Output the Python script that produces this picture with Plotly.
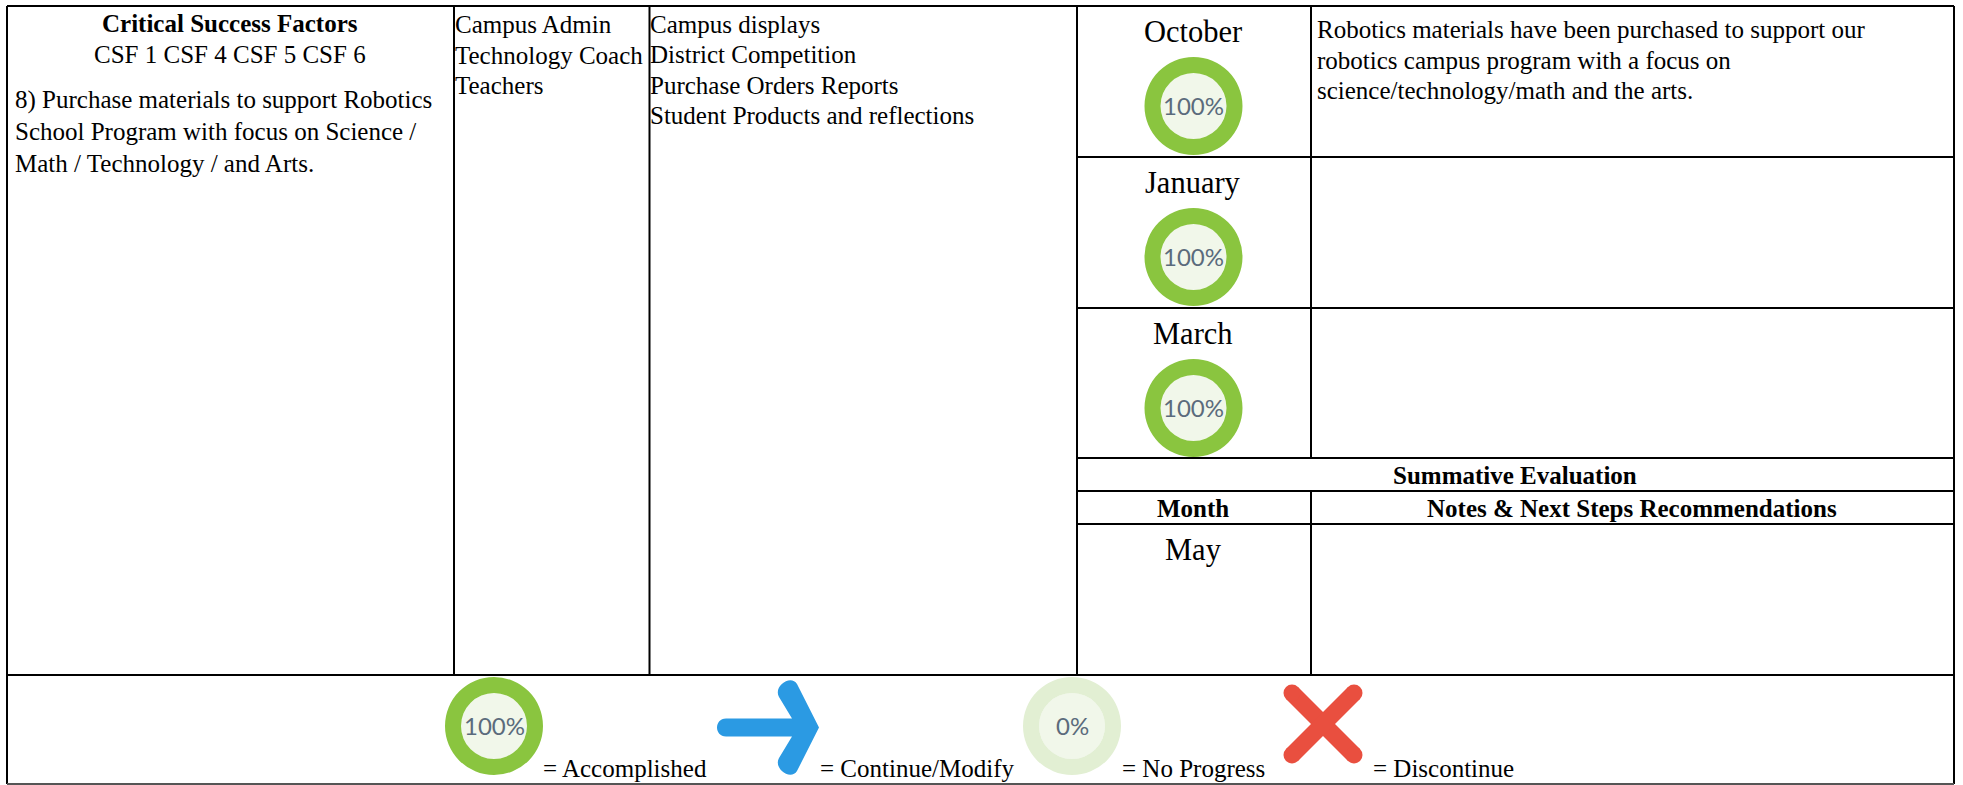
import plotly.graph_objects as go

W, H = 1963, 785
SERIF = "Liberation Serif"
BODY = 25
MONTH = 30.5
INK = "#000000"

# ---------- table text ----------
left_cell = [
    ("Critical Success Factors", 230, 23, "center", True),
    ("CSF 1 CSF 4 CSF 5 CSF 6", 230, 54, "center", False),
    ("8) Purchase materials to support Robotics", 15, 100, "left", False),
    ("School Program with focus on Science /", 15, 131, "left", False),
    ("Math / Technology / and Arts.", 15, 163, "left", False),
]
people = ["Campus Admin", "Technology Coach", "Teachers"]
people_y = [24, 55, 85]
evidence = ["Campus displays", "District Competition", "Purchase Orders Reports", "Student Products and reflections"]
evidence_y = [24, 54, 85, 115]
notes = ["Robotics materials have been purchased to support our",
         "robotics campus program with a focus on",
         "science/technology/math and the arts."]
notes_y = [29, 60, 90]
months = ["October", "January", "March", "May"]
months_y = [32, 183, 334, 550]
headers = [("Summative Evaluation", 1515, 475), ("Month", 1193, 508), ("Notes & Next Steps Recommendations", 1631.5, 508)]

# ---------- progress values ----------
row_progress = [100, 100, 100]
row_centres_y = [106, 257, 408]
legend_progress = [100, 0]
legend_centres = [(494, 726), (1072, 726)]
legend_labels = [("= Accomplished", 543), ("= Continue/Modify", 819.5), ("= No Progress", 1122), ("= Discontinue", 1373)]

# ---------- rules ----------
X_END = 1954
h_rules = [(7, X_END, 6), (1077, X_END, 157), (1077, X_END, 308), (1077, X_END, 458), (1077, X_END, 491),
           (1077, X_END, 524), (7, X_END, 675)]
v_rules = [(7, 6, 784), (454, 6, 675), (649.5, 6, 675), (1077, 6, 675), (1311, 6, 458), (1311, 491, 675),
           (X_END, 6, 784)]

GREEN, PALE, INNER, PCT = "#8AC53F", "#E2EFD3", "#F1F7EA", "#5B6B7C"
R, r = 49, 33

fig = go.Figure()
# anchors the pixel-sized cartesian axes the table is laid out on
fig.add_trace(go.Scatter(x=[0, W], y=[0, H], mode="markers", marker=dict(opacity=0, size=1), hoverinfo="skip",
                         showlegend=False))
shapes, notes_list = [], []


def text(s, x, y, size=BODY, anchor="left", bold=False, family=SERIF, color=INK):
    notes_list.append(dict(x=x, y=y, text=f"<b>{s}</b>" if bold else s, showarrow=False, xanchor=anchor, yanchor="middle",
                           font=dict(family=family, size=size, color=color), borderpad=0, borderwidth=0))


def donut(cx, cy, value):
    fig.add_trace(go.Pie(values=[value, 100 - value], sort=False, direction="clockwise",
                         marker=dict(colors=[GREEN, PALE], line=dict(width=0)), hole=r / R,
                         textinfo="none", hoverinfo="skip", showlegend=False,
                         domain=dict(x=[(cx - R) / W, (cx + R) / W], y=[1 - (cy + R) / H, 1 - (cy - R) / H])))
    shapes.append(dict(type="circle", x0=cx - r, x1=cx + r, y0=cy - r, y1=cy + r, fillcolor=INNER,
                       line=dict(width=0), layer="below"))
    text(f"{value}%", cx, cy - 1, size=24, anchor="center", family="Lato", color=PCT)


for x0, x1, y in h_rules:
    shapes.append(dict(type="line", x0=x0, x1=x1, y0=y, y1=y, line=dict(color=INK, width=2)))
for x, y0, y1 in v_rules:
    shapes.append(dict(type="line", x0=x, x1=x, y0=y0, y1=y1, line=dict(color=INK, width=2)))
shapes.append(dict(type="line", x0=7, x1=X_END, y0=784, y1=784, line=dict(color="#555555", width=2)))

for s, x, y, a, b in left_cell:
    text(s, x, y, anchor=a, bold=b)
for s, y in zip(people, people_y):
    text(s, 455, y)
for s, y in zip(evidence, evidence_y):
    text(s, 650, y)
for s, y in zip(notes, notes_y):
    text(s, 1317, y)
for s, y in zip(months, months_y):
    text(s, 1193, y, size=MONTH, anchor="center")
for s, x, y in headers:
    text(s, x, y, anchor="center", bold=True)
for s, x in legend_labels:
    text(s, x, 768, anchor="left")

for v, y in zip(row_progress, row_centres_y):
    donut(1193.5, y, v)
for v, (x, y) in zip(legend_progress, legend_centres):
    donut(x, y, v)

# arrow icon
shapes.append(dict(type="path", fillcolor="#2B9AE3", line=dict(width=0),
                   path="M 726 718.5 L 792 718.5 L 779 697 C 773 686 791 674 797 684 L 819 727.5 L 797 771 "
                        "C 791 781 773 769 779 758 L 792 736.5 L 726 736.5 C 714 736.5 714 718.5 726 718.5 Z"))
# cross icon
X_RED = "#E94F3F"
for (a, b, c, d) in [(1292, 693, 1354, 755), (1354, 693, 1292, 755)]:
    shapes.append(dict(type="line", x0=a, y0=b, x1=c, y1=d, line=dict(color=X_RED, width=17)))
    for (px, py) in [(a, b), (c, d)]:
        shapes.append(dict(type="circle", x0=px - 8.5, x1=px + 8.5, y0=py - 8.5, y1=py + 8.5, fillcolor=X_RED,
                           line=dict(width=0)))

fig.update_layout(width=W, height=H, margin=dict(l=0, r=0, t=0, b=0), paper_bgcolor="white", plot_bgcolor="white",
                  shapes=shapes, annotations=notes_list, showlegend=False,
                  xaxis=dict(range=[0, W], visible=False, fixedrange=True),
                  yaxis=dict(range=[H, 0], visible=False, fixedrange=True))
fig.write_html("out.html", config=dict(displayModeBar=False),
               post_script="document.body.style.margin='0';document.documentElement.style.overflow='hidden';")
